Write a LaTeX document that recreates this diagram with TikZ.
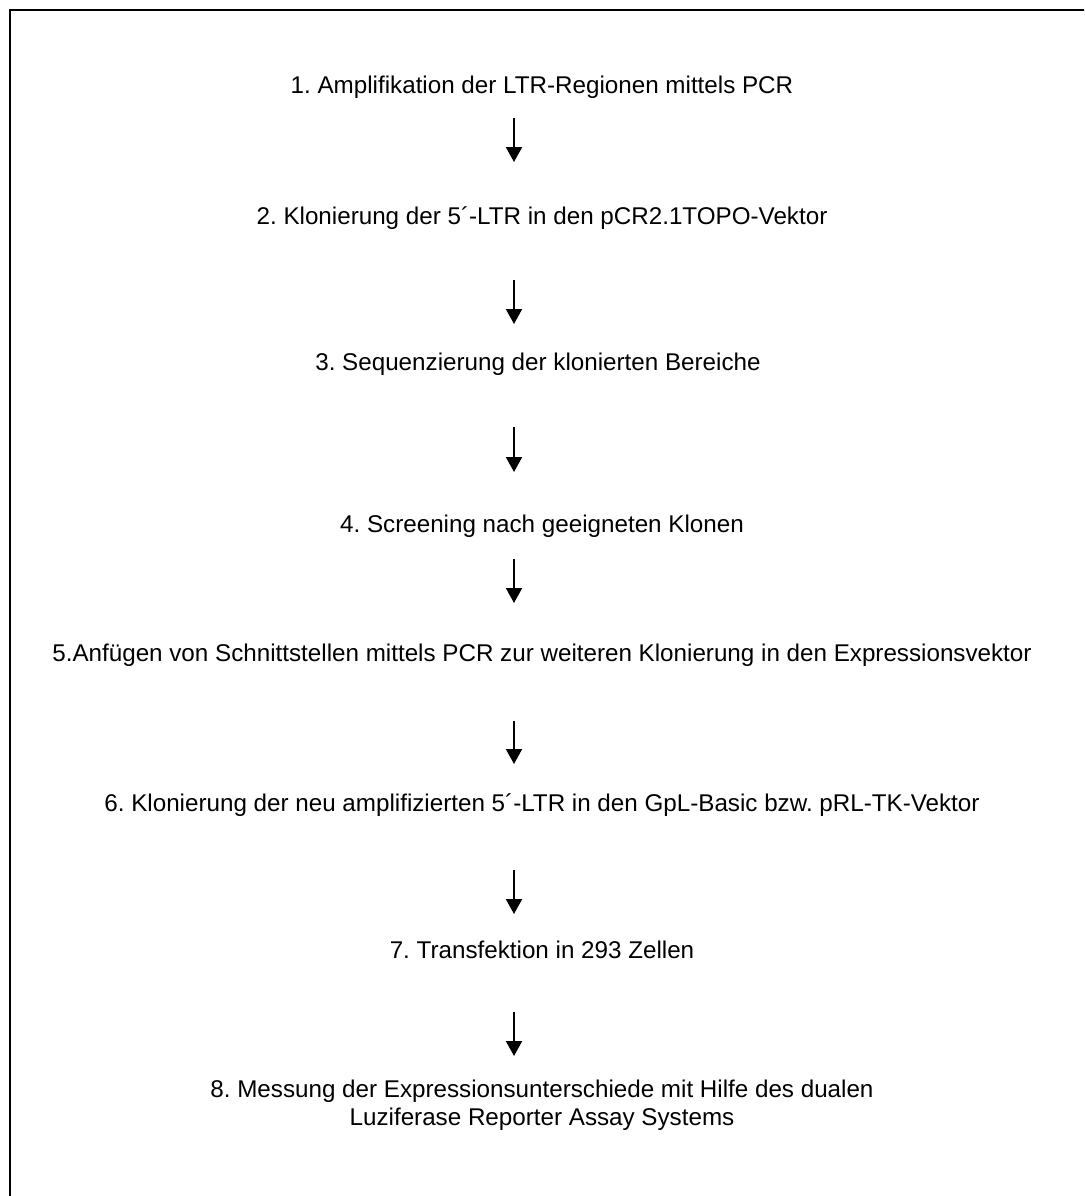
\documentclass[tikz,border=0pt]{standalone}
\usepackage{fontspec}
\setmainfont{Liberation Sans}
\usetikzlibrary{arrows.meta}
\frenchspacing
\tikzset{schritt/.style = {font=\fontsize{12.1}{14}\selectfont, align=center, inner sep=0pt}}
\tikzset{pfeil/.style = {line width=1pt, -{Triangle[width=8pt,length=7.5pt]}}}

\begin{document}
\begin{tikzpicture}[x=0.5pt,y=-0.5pt]
    \useasboundingbox (0,0) rectangle (1084,1196);
    \clip (0,0) rectangle (1084,1196);
    \draw [line width=1pt] (9.5,9.5) rectangle (1140,1250);
    \node [schritt] (s1) at (542,87) {1. Amplifikation der LTR-Regionen mittels PCR};
    \node [schritt] (s2) at (542,218) {2. Klonierung der 5´-LTR in den pCR2.1TOPO-Vektor};
    \node [schritt] (s3) at (538,364) {3. Sequenzierung der klonierten Bereiche};
    \node [schritt] (s4) at (542,526) {4. Screening nach geeigneten Klonen};
    \node [schritt] (s5) at (542,655) {5.Anfügen von Schnittstellen mittels PCR zur weiteren Klonierung in den Expressionsvektor};
    \node [schritt] (s6) at (542,805) {6. Klonierung der neu amplifizierten 5´-LTR in den GpL-Basic bzw. pRL-TK-Vektor};
    \node [schritt] (s7) at (542,950) {7. Transfektion in 293 Zellen};
    \node [schritt] (s8) at (542,1105) {8. Messung der Expressionsunterschiede mit Hilfe des dualen\\Luziferase Reporter Assay Systems};
    \coordinate (a1o) at (514,118);  \coordinate (a1u) at (514,162);
    \coordinate (a2o) at (514,280);  \coordinate (a2u) at (514,324);
    \coordinate (a3o) at (514,427);  \coordinate (a3u) at (514,472);
    \coordinate (a4o) at (514,559);  \coordinate (a4u) at (514,603);
    \coordinate (a5o) at (514,721);  \coordinate (a5u) at (514,764);
    \coordinate (a6o) at (514,870);  \coordinate (a6u) at (514,914);
    \coordinate (a7o) at (514,1012); \coordinate (a7u) at (514,1056);
    \draw [pfeil] (a1o) -- (a1u);
    \draw [pfeil] (a2o) -- (a2u);
    \draw [pfeil] (a3o) -- (a3u);
    \draw [pfeil] (a4o) -- (a4u);
    \draw [pfeil] (a5o) -- (a5u);
    \draw [pfeil] (a6o) -- (a6u);
    \draw [pfeil] (a7o) -- (a7u);
  \end{tikzpicture}
\end{document}
